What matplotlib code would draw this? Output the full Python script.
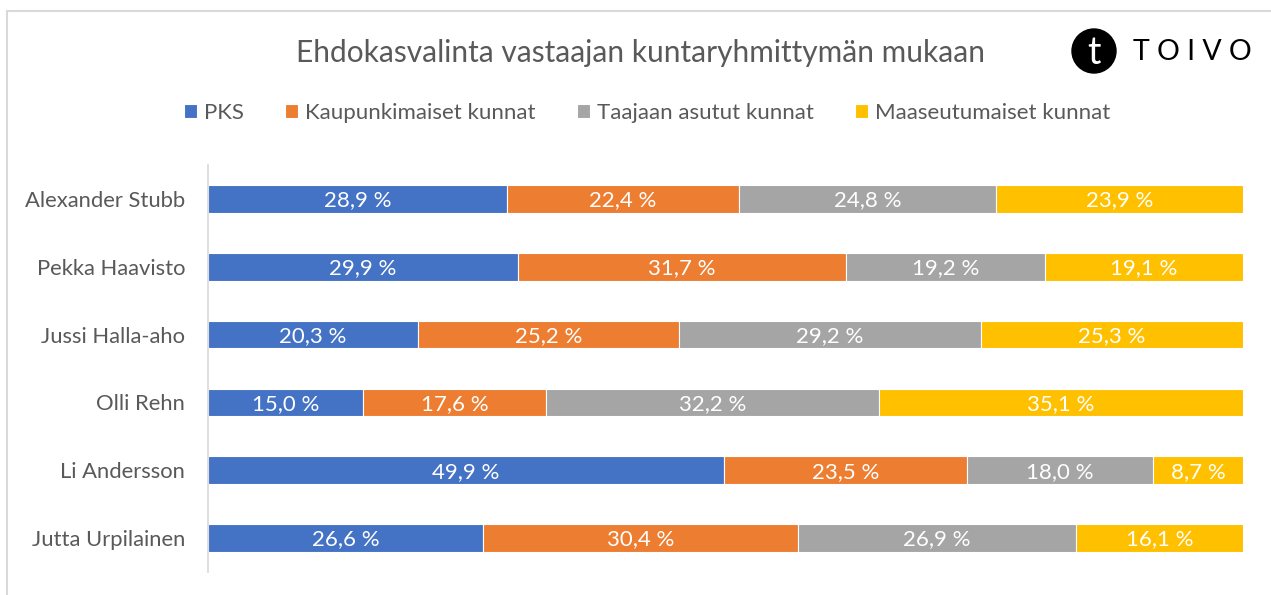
import matplotlib
matplotlib.use("Agg")
import matplotlib.pyplot as plt
from matplotlib.patches import Rectangle, Circle
import numpy as np

plt.rcParams['font.family'] = ['Lato', 'DejaVu Sans']

candidates = ['Alexander Stubb', 'Pekka Haavisto', 'Jussi Halla-aho',
              'Olli Rehn', 'Li Andersson', 'Jutta Urpilainen']
series = ['PKS', 'Kaupunkimaiset kunnat', 'Taajaan asutut kunnat', 'Maaseutumaiset kunnat']
pks = [28.9, 29.9, 20.3, 15.0, 49.9, 26.6]
kaupunki = [22.4, 31.7, 25.2, 17.6, 23.5, 30.4]
taajaan = [24.8, 19.2, 29.2, 32.2, 18.0, 26.9]
maaseutu = [23.9, 19.1, 25.3, 35.1, 8.7, 16.1]
colors = ['#4472C4', '#ED7D31', '#A5A5A5', '#FFC000']

txt = '#595959'
fig = plt.figure(figsize=(12.71, 5.95), dpi=100)
ax = fig.add_axes([208/1271, 1-572/595, (1243-208)/1271, (572-165)/595])

vals = np.array([pks, kaupunki, taajaan, maaseutu])
share = vals / vals.sum(axis=0) * 100
y = np.arange(len(candidates))
left = np.zeros(len(candidates))
for i, name in enumerate(series):
    ax.barh(y, share[i], left=left, height=0.41, color=colors[i],
            edgecolor='white', linewidth=0.8, label=name)
    for j in range(len(candidates)):
        lab = f'{vals[i, j]:.1f} %'.replace('.', ',')
        ax.text(left[j] + share[i, j] / 2, y[j] + 0.02, lab, ha='center', va='center',
                color='white', fontsize=16)
    left += share[i]

ax.set_xlim(0, 100)
ax.set_ylim(len(candidates) - 0.5, -0.5)
ax.set_yticks(y)
ax.set_yticklabels(candidates, fontsize=15.8, color=txt)
ax.tick_params(axis='y', length=0, pad=16.5)
ax.set_xticks([])
for s in ['top', 'right', 'bottom']:
    ax.spines[s].set_visible(False)
ax.spines['left'].set_color('#D9D9D9')
ax.spines['left'].set_linewidth(1.2)

fig.text(640/1271, 1-53/595, 'Ehdokasvalinta vastaajan kuntaryhmittymän mukaan',
         ha='center', va='center', fontsize=21.5, color=txt)

fig.legend(loc='center', bbox_to_anchor=(647/1271, 1-113/595), ncol=4,
           frameon=False, fontsize=16, labelcolor=txt, handlelength=0.6,
           handleheight=0.6, handletextpad=0.3, columnspacing=1.85)

# chart frame
fig.patches.append(Rectangle((7/1271, -0.1), 1.2, 1-11/595 + 0.1,
                             transform=fig.transFigure, fill=False,
                             edgecolor='#D9D9D9', linewidth=1.5))

# logo
logo = Circle((1094/100, (595-51)/100), 0.22, transform=fig.dpi_scale_trans,
              color='black')
fig.patches.append(logo)
fig.text(1094/1271, 1-53/595, 't', ha='center', va='center', color='white',
         fontsize=27)
fig.text(1192/1271, 1-52/595, 'T O I V O', ha='center', va='center',
         color='black', fontsize=20.5)

fig.savefig('out.png', dpi=100)
